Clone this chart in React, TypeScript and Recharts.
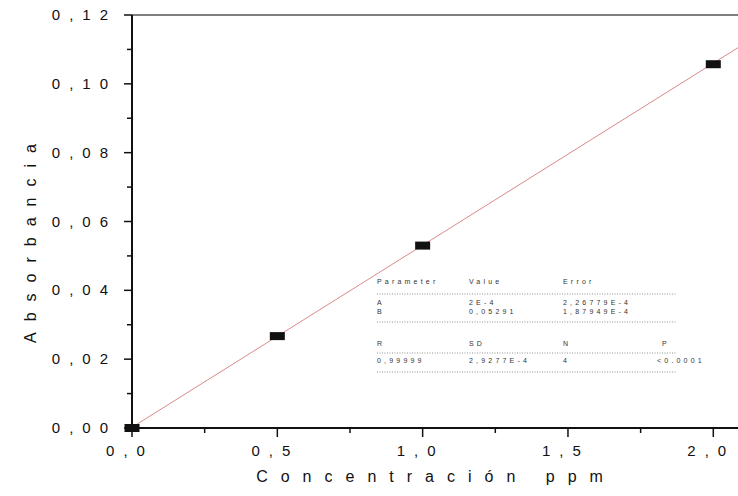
import React from 'react';
import { ComposedChart, Scatter, Line, XAxis, YAxis, ReferenceLine } from 'recharts';

// Measured calibration points
const points = [
  { x: 0.0, y: 0.0 },
  { x: 0.5, y: 0.0267 },
  { x: 1.0, y: 0.053 },
  { x: 2.0, y: 0.1057 },
];
// Linear fit line (endpoints)
const fitLine = [
  { x: 0.0, y: 0.0002 },
  { x: 2.085, y: 0.1105 },
];

const xTicks = [0, 0.25, 0.5, 0.75, 1.0, 1.25, 1.5, 1.75, 2.0];
const xMajorLabels: Record<string, string> = { '0': '0,0', '0.5': '0,5', '1': '1,0', '1.5': '1,5', '2': '2,0' };
const yTicks = [0, 0.01, 0.02, 0.03, 0.04, 0.05, 0.06, 0.07, 0.08, 0.09, 0.1, 0.11, 0.12];
const yMajorLabels: Record<string, string> = {
  '0': '0,00', '0.02': '0,02', '0.04': '0,04', '0.06': '0,06', '0.08': '0,08', '0.1': '0,10', '0.12': '0,12',
};

const tableHead1 = ['Parameter', 'Value', 'Error'];
const tableRowsAB = [
  ['A', '2E-4', '2,26779E-4'],
  ['B', '0,05291', '1,87949E-4'],
];
const tableHead2 = ['R', 'SD', 'N', 'P'];
const tableRow2 = ['0,99999', '2,9277E-4', '4', '<0.0001'];

const FONT = '"Liberation Sans", Arial, sans-serif';

const XTick = (props: any) => {
  const { x, y, payload } = props;
  const key = String(Math.round(payload.value * 100) / 100);
  const label = xMajorLabels[key];
  const major = label !== undefined;
  return (
    <g>
      <line x1={x} x2={x} y1={y} y2={y + (major ? 9 : 5)} stroke="#111" strokeWidth={1.5} />
      {major && (
        <text x={x - 2} y={y + 28} textAnchor="middle" fontSize={15} letterSpacing={9} fill="#111" fontFamily={FONT}>
          {label}
        </text>
      )}
    </g>
  );
};

const YTick = (props: any) => {
  const { x, y, payload } = props;
  const key = String(Math.round(payload.value * 1000) / 1000);
  const label = yMajorLabels[key];
  const major = label !== undefined;
  return (
    <g>
      <line x1={x} x2={x - (major ? 8 : 5)} y1={y} y2={y} stroke="#111" strokeWidth={1.5} />
      {major && (
        <text x={x - 15} y={y + 5} textAnchor="end" fontSize={15} letterSpacing={9} fill="#111" fontFamily={FONT}>
          {label}
        </text>
      )}
    </g>
  );
};

const Marker = (props: any) => {
  const { cx, cy } = props;
  return <rect x={cx - 7.5} y={cy - 4} width={15} height={8} fill="#111" />;
};

const tableCols = [377, 469, 563, 662];
const dotLines = [294, 322, 353, 372];

export default function App() {
  return (
    <div style={{ position: 'absolute', left: 0, top: 0, width: 738, height: 496, background: '#fff', fontFamily: FONT }}>
      <ComposedChart width={738} height={496} margin={{ top: 15, right: 0, bottom: 28, left: 72 }}>
        <XAxis
          type="number"
          dataKey="x"
          domain={[0, 2.085]}
          ticks={xTicks}
          interval={0}
          tick={XTick}
          tickLine={false}
          tickSize={0}
          tickMargin={0}
          height={40}
          axisLine={{ stroke: '#111', strokeWidth: 2 }}
        />
        <YAxis
          type="number"
          dataKey="y"
          domain={[0, 0.12]}
          ticks={yTicks}
          interval={0}
          tick={YTick}
          tickLine={false}
          tickSize={0}
          tickMargin={0}
          width={60}
          axisLine={{ stroke: '#111', strokeWidth: 2 }}
        />
        <ReferenceLine y={0.12} stroke="#555" strokeWidth={1.5} />
        <Line data={fitLine} dataKey="y" type="linear" stroke="#d98a8a" strokeWidth={1} dot={false} isAnimationActive={false} />
        <Scatter data={points} dataKey="y" shape={Marker} isAnimationActive={false} />
      </ComposedChart>
      <svg width={738} height={496} style={{ position: 'absolute', left: 0, top: 0, pointerEvents: 'none' }}>
        <text x={30} y={238} transform="rotate(-90 30 238)" textAnchor="middle" dominantBaseline="central" fontSize={16} letterSpacing={11} fill="#111" fontFamily={FONT}>
          Absorbancia
        </text>
        <text x={436} y={476} textAnchor="middle" dominantBaseline="central" fontSize={16} letterSpacing={13} fill="#111" fontFamily={FONT}>
          Concentración ppm
        </text>
        <g fontSize={7} letterSpacing={3.2} fill="#333" fontFamily={FONT}>
          {tableHead1.map((t, i) => (
            <text key={'h1' + i} x={tableCols[i]} y={284}>{t}</text>
          ))}
          {tableRowsAB.map((row, r) =>
            row.map((t, i) => (
              <text key={'ab' + r + i} x={tableCols[i]} y={305 + r * 9}>{t}</text>
            ))
          )}
          {tableHead2.map((t, i) => (
            <text key={'h2' + i} x={tableCols[i]} y={346}>{t}</text>
          ))}
          {tableRow2.map((t, i) => (
            <text key={'r2' + i} x={i === 3 ? 657 : tableCols[i]} y={363}>{t}</text>
          ))}
        </g>
        {dotLines.map((yy, i) => (
          <line key={'dl' + i} x1={377} x2={677} y1={yy} y2={yy} stroke="#777" strokeWidth={0.8} strokeDasharray="1 1.5" />
        ))}
      </svg>
    </div>
  );
}
